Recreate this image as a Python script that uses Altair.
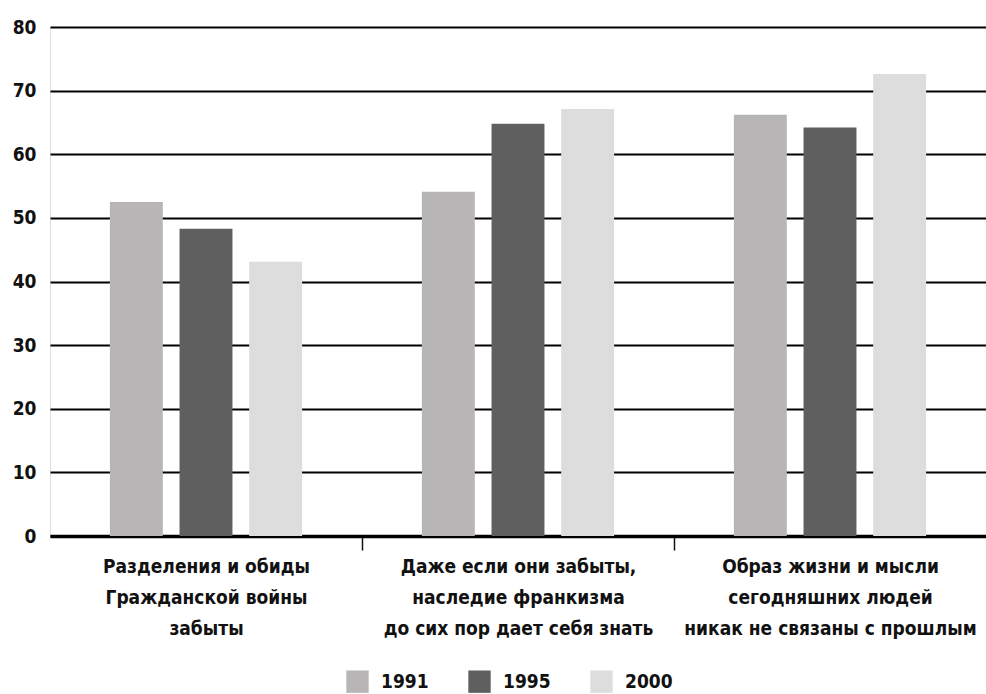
import altair as alt
import pandas as pd

categories = [
    "Разделения и обиды|Гражданской войны|забыты",
    "Даже если они забыты,|наследие франкизма|до сих пор дает себя знать",
    "Образ жизни и мысли|сегодняшних людей|никак не связаны с прошлым",
]
years = ["1991", "1995", "2000"]
values_1991 = [52.5, 54.1, 66.2]
values_1995 = [48.3, 64.8, 64.2]
values_2000 = [43.1, 67.1, 72.6]
colors = ["#b7b5b6", "#5f5f5f", "#dddddd"]
y_ticks = [0, 10, 20, 30, 40, 50, 60, 70, 80]

rows = []
for yr, vals in zip(years, [values_1991, values_1995, values_2000]):
    for c, v in zip(categories, vals):
        rows.append({"category": c, "year": yr, "value": v})
df = pd.DataFrame(rows)

FONT = "Liberation Sans Narrow, DejaVu Sans Condensed, sans-serif"

chart = alt.Chart(df).mark_bar().encode(
    x=alt.X(
        "category:N",
        sort=categories,
        title=None,
        scale=alt.Scale(paddingInner=0, paddingOuter=0),
        axis=alt.Axis(
            labelExpr="split(datum.label, '|')",
            labelAngle=0,
            labelFont=FONT,
            labelFontSize=19,
            labelFontWeight="bold",
            labelColor="#111111",
            labelLineHeight=31,
            labelPadding=7,
            labelBaseline="top",
            tickBand="extent",
            tickColor="#111111",
            tickOpacity={"condition": {"test": "datum.index < 0 || datum.index >= 1", "value": 0}, "value": 1},
            tickSize=14,
            tickWidth=1.5,
            domainColor="#000000",
            domainWidth=3.5,
            grid=False,
            labelLimit=400,
        ),
    ),
    xOffset=alt.XOffset(
        "year:N",
        sort=years,
        scale=alt.Scale(paddingInner=0.24, paddingOuter=0.86),
    ),
    y=alt.Y(
        "value:Q",
        title=None,
        scale=alt.Scale(domain=[0, 80], nice=False),
        axis=alt.Axis(
            values=y_ticks,
            labelFont=FONT,
            labelFontSize=19,
            labelFontWeight="bold",
            labelColor="#111111",
            labelPadding=14,
            ticks=False,
            domain=False,
            grid=True,
            gridColor="#000000",
            gridWidth=2.2,
            gridOpacity=1,
        ),
    ),
    color=alt.Color(
        "year:N",
        sort=years,
        scale=alt.Scale(domain=years, range=colors),
        legend=alt.Legend(
            title=None,
            orient="none",
            direction="horizontal",
            legendX=296,
            legendY=643,
            symbolType="square",
            symbolSize=500,
            symbolStrokeWidth=0,
            symbolOpacity=1,
            labelFont=FONT,
            labelFontSize=19,
            labelFontWeight="bold",
            labelColor="#111111",
            labelOffset=12,
            columnPadding=39,
            padding=0,
        ),
    ),
).properties(
    width=936,
    height=509,
    padding={"left": 50, "top": 27, "right": 0, "bottom": 158},
    autosize=alt.AutoSizeParams(type="none"),
).configure_view(
    stroke=None
).configure(background="#ffffff")

chart.save("out.html", embed_options={"renderer": "svg", "actions": False})
